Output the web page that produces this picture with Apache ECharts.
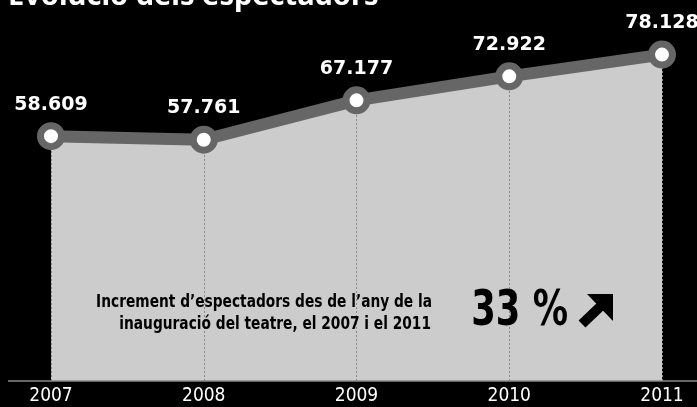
<!DOCTYPE html>
<html>
<head>
<meta charset="utf-8">
<style>
  html, body { margin: 0; padding: 0; background: #000; }
  #chart-container { width: 697px; height: 407px; }
</style>
<script src="https://cdn.jsdelivr.net/npm/echarts@6/dist/echarts.min.js"></script>
</head>
<body>
<div id="chart-container"></div>
<script>
var years = ['2007', '2008', '2009', '2010', '2011'];
var spectators = [58609, 57761, 67177, 72922, 78128];
var titleText = 'Evolució dels espectadors';
var noteLines = ['Increment d\u2019espectadors des de l\u2019any de la', 'inauguració del teatre, el 2007 i el 2011'];
var noteValue = '33 %';

var dom = document.getElementById('chart-container');
var myChart = echarts.init(dom, null, { renderer: 'canvas' });

function fmt(v) {
  return String(v).replace(/\B(?=(\d{3})+(?!\d))/g, '.');
}

var narrow = '"DejaVu Sans Condensed", sans-serif';

var option = {
  backgroundColor: '#000',
  animation: false,
  grid: { left: 51, right: 35, top: 5, bottom: 26 },
  xAxis: {
    type: 'category',
    data: years,
    boundaryGap: false,
    axisLine: { show: false },
    axisTick: { show: false },
    axisLabel: {
      color: '#fff',
      fontFamily: '"DejaVu Sans Condensed", "DejaVu Sans", sans-serif',
      fontSize: 19,
      margin: 6
    },
    splitLine: { show: false }
  },
  yAxis: {
    type: 'value',
    min: 0,
    max: 90000,
    show: false,
    splitLine: { show: false }
  },
  series: [
    {
      type: 'line',
      data: spectators,
      symbol: 'none',
      lineStyle: { width: 0 },
      areaStyle: { color: '#cccccc', opacity: 1 },
      markLine: {
        silent: true,
        z: 3,
        symbol: 'none',
        label: { show: false },
        lineStyle: { color: '#888', width: 1, type: [2, 2] },
        data: years.map(function (y, i) {
          return [{ coord: [y, 0] }, { coord: [y, spectators[i]] }];
        })
      },
      z: 1
    },
    {
      type: 'line',
      data: spectators,
      symbol: 'circle',
      symbolSize: 21,
      lineStyle: { color: '#666', width: 12 },
      itemStyle: { color: '#fff', borderColor: '#666', borderWidth: 7 },
      label: {
        show: true,
        position: 'top',
        distance: 8,
        color: '#fff',
        fontFamily: '"DejaVu Sans", sans-serif',
        fontWeight: 'bold',
        fontSize: 19,
        formatter: function (p) { return fmt(p.value); }
      },
      z: 6
    }
  ],
  graphic: [
    {
      type: 'line',
      shape: { x1: 8, y1: 381, x2: 697, y2: 381 },
      style: { stroke: '#8a8a8a', lineWidth: 1.5 },
      z: 10
    },
    {
      type: 'text',
      x: 8,
      y: -18,
      style: {
        text: titleText,
        fill: '#fff',
        font: 'bold 29px "Noto Sans", sans-serif'
      }
    },
    {
      type: 'text',
      x: 432,
      y: 302,
      scaleX: 0.85,
      style: {
        text: noteLines[0],
        fill: '#000',
        font: 'bold 18px ' + narrow,
        align: 'right',
        verticalAlign: 'middle'
      },
      z: 20
    },
    {
      type: 'text',
      x: 431,
      y: 324,
      scaleX: 0.85,
      style: {
        text: noteLines[1],
        fill: '#000',
        font: 'bold 18px ' + narrow,
        align: 'right',
        verticalAlign: 'middle'
      },
      z: 20
    },
    {
      type: 'text',
      x: 568,
      y: 312,
      scaleX: 0.8,
      style: {
        text: noteValue,
        fill: '#000',
        font: 'bold 49px ' + narrow,
        align: 'right',
        verticalAlign: 'middle'
      },
      z: 20
    },
    {
      type: 'polygon',
      shape: { points: [[613, 294], [587, 294], [613, 321]] },
      style: { fill: '#000' },
      z: 20
    },
    {
      type: 'line',
      shape: { x1: 582, y1: 324, x2: 603, y2: 304 },
      style: { stroke: '#000', lineWidth: 10 },
      z: 20
    }
  ]
};

myChart.setOption(option);
window.addEventListener('resize', myChart.resize);
</script>
</body>
</html>
